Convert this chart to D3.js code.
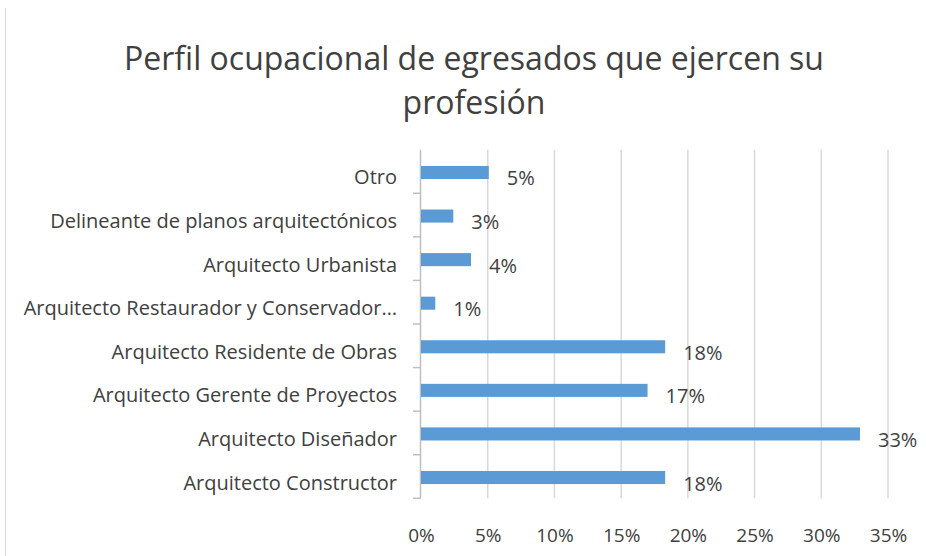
<!DOCTYPE html>
<html>
<head>
<meta charset="utf-8">
<script src="https://cdn.jsdelivr.net/npm/d3@7"></script>
<style>
  body { margin: 0; background: #fff; }
  text { font-family: "Open Sans", sans-serif; fill: #404040; }
</style>
</head>
<body>
<svg id="chart" width="926" height="556"></svg>
<script>
// data, top row first
var categories = [
  "Otro",
  "Delineante de planos arquitectónicos",
  "Arquitecto Urbanista",
  "Arquitecto Restaurador y Conservador…",
  "Arquitecto Residente de Obras",
  "Arquitecto Gerente de Proyectos",
  "Arquitecto Diseñador",
  "Arquitecto Constructor"
];
var values = [0.0508, 0.0242, 0.0375, 0.0107, 0.183, 0.1698, 0.329, 0.183];
var valueLabels = ["5%", "3%", "4%", "1%", "18%", "17%", "33%", "18%"];
var xTicks = [0, 0.05, 0.10, 0.15, 0.20, 0.25, 0.30, 0.35];
var titleLines = ["Perfil ocupacional de egresados que ejercen su", "profesión"];

var svg = d3.select("#chart");
var plot = { left: 421, right: 888, top: 149.7, bottom: 498.3 };

var x = d3.scaleLinear().domain([0, 0.35]).range([plot.left, plot.right]);
var y = d3.scaleBand().domain(categories).range([plot.top, plot.bottom]).paddingInner(0.7).paddingOuter(0.35);
var band = d3.scaleBand().domain(categories).range([plot.top, plot.bottom]);

// left border of the chart frame
svg.append("line")
  .attr("x1", 5.5).attr("x2", 5.5).attr("y1", 8).attr("y2", 556)
  .attr("stroke", "#d9d9d9").attr("stroke-width", 1);

// title
svg.append("text")
  .attr("x", 474).attr("y", 70)
  .attr("text-anchor", "middle")
  .style("font-size", "32px")
  .selectAll("tspan")
  .data(titleLines)
  .enter().append("tspan")
  .attr("x", 474)
  .attr("dy", function (d, i) { return i == 0 ? 0 : 44; })
  .text(function (d) { return d; });

// vertical gridlines
svg.append("g")
  .selectAll("line")
  .data(xTicks.slice(1))
  .enter().append("line")
  .attr("x1", function (d) { return x(d); })
  .attr("x2", function (d) { return x(d); })
  .attr("y1", plot.top).attr("y2", plot.bottom)
  .attr("stroke", "#d9d9d9").attr("stroke-width", 1.5);

// x axis labels only
var xAxis = d3.axisBottom(x).tickValues(xTicks).tickSize(0).tickFormat(d3.format(".0%"));
var gx = svg.append("g").attr("transform", "translate(0," + (plot.bottom + 43.4) + ")").call(xAxis);
gx.select(".domain").remove();
gx.selectAll("text").style("font-size", "19px").attr("fill", "#404040").attr("y", 0).attr("dy", 0);

// y axis with outside ticks at band boundaries
var gy = svg.append("g");
gy.append("line")
  .attr("x1", plot.left - 0.5).attr("x2", plot.left - 0.5)
  .attr("y1", plot.top).attr("y2", plot.bottom)
  .attr("stroke", "#bfbfbf").attr("stroke-width", 1.5);
gy.selectAll("line.tick")
  .data(categories)
  .enter().append("line")
  .attr("class", "tick")
  .attr("x1", plot.left - 8).attr("x2", plot.left)
  .attr("y1", function (d) { return band(d) + band.bandwidth(); })
  .attr("y2", function (d) { return band(d) + band.bandwidth(); })
  .attr("stroke", "#bfbfbf").attr("stroke-width", 1.5);
gy.selectAll("text")
  .data(categories)
  .enter().append("text")
  .attr("x", 397)
  .attr("y", function (d) { return band(d) + band.bandwidth() / 2 + 13; })
  .attr("text-anchor", "end")
  .style("font-size", "20px")
  .text(function (d) { return d; });

// bars
svg.append("g")
  .selectAll("rect")
  .data(values)
  .enter().append("rect")
  .attr("x", x(0))
  .attr("y", function (d, i) { return y(categories[i]) + 1; })
  .attr("width", function (d) { return x(d) - x(0); })
  .attr("height", y.bandwidth())
  .attr("fill", "#5b9bd5");

// value labels
svg.append("g")
  .selectAll("text")
  .data(values)
  .enter().append("text")
  .attr("x", function (d) { return x(d) + 18; })
  .attr("y", function (d, i) { return y(categories[i]) + y.bandwidth() / 2 + 14; })
  .style("font-size", "20px")
  .text(function (d, i) { return valueLabels[i]; });
</script>
</body>
</html>
